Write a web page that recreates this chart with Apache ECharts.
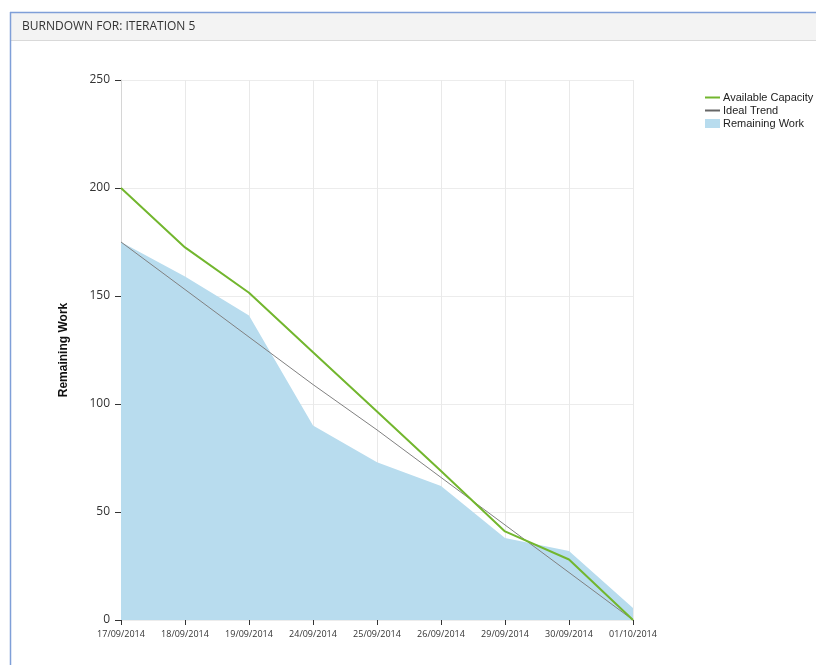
<!DOCTYPE html>
<html><head><meta charset="utf-8">
<script src="https://cdn.jsdelivr.net/npm/echarts@6/dist/echarts.min.js"></script>
<style>html,body{margin:0;padding:0;background:#fff}#c{width:816px;height:665px}</style>
</head><body><div id="c"></div>
<script>
var categories = ['17/09/2014','18/09/2014','19/09/2014','24/09/2014','25/09/2014','26/09/2014','29/09/2014','30/09/2014','01/10/2014'];
var availableCapacity = [200, 172.5, 151.5, 124, 96.5, 69, 41, 28, 0];
var idealTrend = [175, 153, 131, 109, 88, 66, 44, 22, 0];
var remainingWork = [175, 159, 141, 90, 73, 62, 38, 32, 5.5];
var yTicks = [0, 50, 100, 150, 200, 250];

var chart = echarts.init(document.getElementById('c'));
chart.setOption({
  animation: false,
  graphic: [
    {type:'rect', shape:{x:10,y:12,width:806,height:28}, style:{fill:'#f3f3f3'}, z:-1},
    {type:'line', shape:{x1:10,y1:40.5,x2:816,y2:40.5}, style:{stroke:'#d9d9d9',lineWidth:1}},
    {type:'line', shape:{x1:10,y1:12.5,x2:816,y2:12.5}, style:{stroke:'#7f9fd8',lineWidth:1.5}},
    {type:'line', shape:{x1:10.5,y1:12,x2:10.5,y2:665}, style:{stroke:'#7f9fd8',lineWidth:1.5}},
    {type:'text', left:22, top:21, style:{text:'BURNDOWN FOR: ITERATION 5', fill:'#333', font:'12px "Open Sans", "Noto Sans", sans-serif'}}
  ],
  legend: [
    {orient:'vertical', left:705, top:91, padding:0, itemWidth:15, itemHeight:2, itemGap:0,
     icon:'rect', data:['Available Capacity','Ideal Trend'],
     textStyle:{fontFamily:'Liberation Sans, Arial', fontSize:11, color:'#222', padding:[0,0,0,-2], lineHeight:13}},
    {orient:'vertical', left:705, top:117, padding:0, itemWidth:15, itemHeight:9,
     icon:'rect', data:['Remaining Work'],
     textStyle:{fontFamily:'Liberation Sans, Arial', fontSize:11, color:'#222', padding:[0,0,0,-2], lineHeight:13}}
  ],
  grid: {left:121, right:183, top:80, bottom:45, containLabel:false},
  xAxis: {
    type:'category', data:categories, boundaryGap:false,
    axisLine:{show:false},
    axisTick:{show:true, alignWithLabel:true, length:5, lineStyle:{color:'#333'}},
    axisLabel:{fontFamily:'"Open Sans", "Noto Sans", sans-serif', fontSize:9, color:'#333', margin:10, interval:0},
    splitLine:{show:true, lineStyle:{color:'#e9e9e9'}}
  },
  yAxis: {
    type:'value', min:0, max:250, interval:50,
    name:'Remaining Work', nameLocation:'middle', nameGap:51, nameRotate:90,
    nameTextStyle:{fontFamily:'Liberation Sans, Arial', fontWeight:'bold', fontSize:12, color:'#111'},
    axisLine:{show:true, lineStyle:{color:'#d6d6d6'}},
    axisTick:{show:true, length:6, lineStyle:{color:'#333'}},
    axisLabel:{fontFamily:'"Open Sans", "Noto Sans", sans-serif', fontSize:12, color:'#333', margin:11,
      formatter:function(v){return yTicks.indexOf(v)>=0? String(v):'';}},
    splitLine:{show:true, lineStyle:{color:'#ececec'}}
  },
  series: [
    {name:'Remaining Work', type:'line', data:remainingWork, symbol:'none',
     lineStyle:{width:0, color:'#b8dcee'}, itemStyle:{color:'#b8dcee'},
     areaStyle:{color:'#b8dcee', opacity:1}, z:1},
    {name:'Ideal Trend', type:'line', data:idealTrend, symbol:'none',
     lineStyle:{width:1, color:'#808080'}, itemStyle:{color:'#666'}, z:2},
    {name:'Available Capacity', type:'line', data:availableCapacity, symbol:'none',
     lineStyle:{width:2, color:'#72b62e'}, itemStyle:{color:'#72b62e'}, z:3}
  ]
});
</script></body></html>
